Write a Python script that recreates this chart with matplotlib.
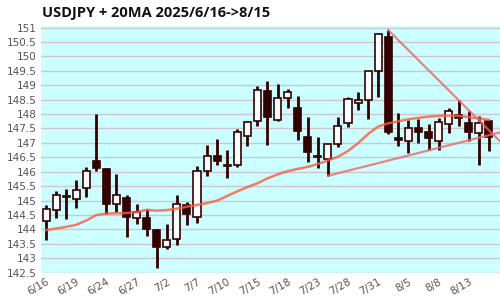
import matplotlib
matplotlib.use("Agg")
import matplotlib.pyplot as plt
from matplotlib.patches import Rectangle

dates = ["6/16","6/17","6/18","6/19","6/20","6/23","6/24","6/25","6/26","6/27",
         "6/30","7/1","7/2","7/3","7/4","7/7","7/8","7/9","7/10","7/11",
         "7/14","7/15","7/16","7/17","7/18","7/21","7/22","7/23","7/24","7/25",
         "7/28","7/29","7/30","7/31","8/1","8/4","8/5","8/6","8/7","8/8",
         "8/11","8/12","8/13","8/14","8/15"]
opens  = [144.29,144.69,145.16,145.05,145.43,146.39,146.08,144.87,145.10,144.38,
          144.38,143.97,143.40,143.68,144.86,144.43,146.02,146.53,146.25,146.22,
          147.24,147.77,148.81,147.80,148.56,148.21,147.22,146.56,146.45,146.97,
          147.69,148.40,148.49,149.50,150.68,147.18,147.08,147.50,147.37,147.06,
          147.64,147.97,147.68,147.33,147.76]
highs  = [144.84,145.35,145.39,145.73,146.18,148.00,146.12,145.91,145.20,144.89,
          144.72,144.01,144.20,145.18,144.94,146.21,146.94,147.15,146.74,147.49,
          147.75,148.98,149.16,149.04,148.87,148.63,147.91,147.20,146.97,147.91,
          148.58,148.78,149.48,150.80,150.91,148.03,147.80,147.82,147.65,147.87,
          148.22,148.48,148.12,147.93,147.81]
lows   = [143.63,144.38,144.35,144.74,145.12,146.01,144.52,144.61,143.74,144.18,
          143.78,142.67,143.33,143.45,144.17,144.22,145.85,146.25,145.78,146.16,
          146.89,147.58,146.93,147.75,148.20,147.11,146.33,146.14,145.86,146.85,
          147.54,148.15,147.83,148.60,147.31,146.90,146.66,147.01,146.74,146.75,
          147.35,147.58,147.06,146.22,146.72]
closes = [144.70,145.20,145.12,145.38,146.04,146.12,144.89,145.20,144.43,144.61,
          144.01,143.40,143.62,144.89,144.55,146.01,146.55,146.37,146.20,147.37,
          147.73,148.83,147.89,148.56,148.77,147.42,146.68,146.52,146.97,147.58,
          148.52,148.48,149.48,150.77,147.37,147.10,147.52,147.37,147.16,147.71,
          148.10,147.85,147.39,147.70,147.21]
ma20   = [143.98,144.03,144.09,144.16,144.31,144.50,144.55,144.56,144.57,144.60,
          144.68,144.65,144.67,144.72,144.79,144.85,144.91,145.00,145.16,145.32,
          145.47,145.60,145.77,145.91,146.02,146.10,146.17,146.27,146.39,146.52,
          146.72,146.99,147.31,147.57,147.68,147.75,147.82,147.87,147.91,147.94,
          147.95,147.94,147.89,147.85,147.80]
# trend lines: anchor indices (day index) through candle highs / lows
upper_idx = [34, 41]   # 8/1 high, 8/12 high
lower_idx = [28, 38]   # 7/24 low, 8/7 low

yticks = [142.5 + 0.5 * k for k in range(18)]
ytick_labels = [("%g" % v) for v in yticks]
xtick_idx = list(range(0, 45, 3))

DARK = "#330000"

fig = plt.figure(figsize=(5, 3), dpi=100)
ax = fig.add_axes([0.082, 0.091, 0.918, 0.822])
ax.set_facecolor("#ccffff")
for s in ax.spines.values():
    s.set_visible(False)

ax.set_xlim(-0.5, 45.1)
ax.set_ylim(142.5, 151.05)
ax.set_yticks(yticks)
ax.set_yticklabels(ytick_labels)
ax.yaxis.grid(True, color="#cdc6cc", linewidth=1.0)
ax.set_axisbelow(True)
ax.tick_params(axis="both", length=0, colors="#555555", labelsize=7.5, pad=3)

ax.set_xticks(xtick_idx)
ax.set_xticklabels([dates[i] for i in xtick_idx], rotation=30, ha="right",
                   rotation_mode="anchor")

w = 0.7
for i in range(len(dates)):
    o, h, l, c = opens[i], highs[i], lows[i], closes[i]
    ax.plot([i, i], [l, h], color=DARK, linewidth=2.0, solid_capstyle="butt", zorder=2)
    up = c >= o
    bottom = min(o, c)
    height = max(abs(c - o), 0.03)
    ax.add_patch(Rectangle((i - w / 2, bottom), w, height,
                           facecolor="white" if up else DARK,
                           edgecolor=DARK, linewidth=1.2, zorder=3))

ax.plot(range(len(dates)), ma20, color="#ff5a40", alpha=0.8, linewidth=1.8, zorder=4)

def trend(idx, vals):
    i0, i1 = idx
    v0, v1 = vals[i0], vals[i1]
    slope = (v1 - v0) / (i1 - i0)
    xe = 46.0
    ax.plot([i0, xe], [v0, v0 + slope * (xe - i0)], color="#ee6666",
            alpha=0.8, linewidth=1.6, zorder=5)

trend(upper_idx, highs)
trend(lower_idx, lows)

fig.text(0.084, 0.957, "USDJPY + 20MA 2025/6/16->8/15", fontsize=10.5,
         fontweight="bold", color="#111111", va="center", ha="left",
         family="Open Sans")

fig.savefig("out.png", dpi=100)
